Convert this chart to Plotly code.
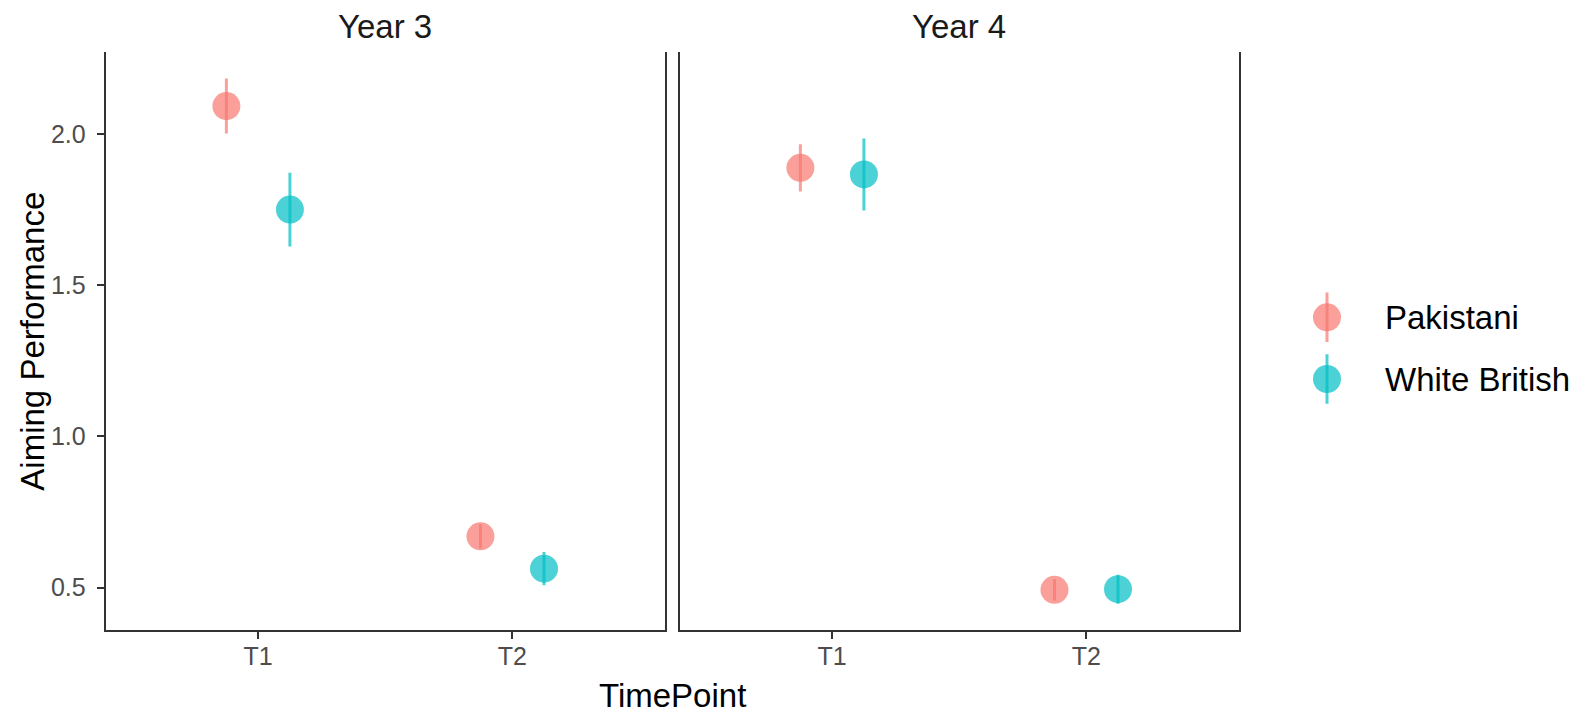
import numpy as np
import plotly.graph_objects as go

# ---- data ---------------------------------------------------------------
years = ["Year 3", "Year 4"]
timepoints = ["T1", "T2"]
groups = ["Pakistani", "White British"]
group_colors = ["#F8766D", "#00BFC4"]

# mean aiming performance and its error (+/-) per timepoint
pak_y3_mean = [2.092, 0.670]
pak_y3_err = [0.091, 0.040]
wb_y3_mean = [1.750, 0.563]
wb_y3_err = [0.122, 0.055]

pak_y4_mean = [1.888, 0.493]
pak_y4_err = [0.078, 0.035]
wb_y4_mean = [1.866, 0.495]
wb_y4_err = [0.119, 0.048]

y_tick_vals = [0.5, 1.0, 1.5, 2.0]
y_tick_text = ["0.5", "1.0", "1.5", "2.0"]

panel_data = {
    "Year 3": [(pak_y3_mean, pak_y3_err), (wb_y3_mean, wb_y3_err)],
    "Year 4": [(pak_y4_mean, pak_y4_err), (wb_y4_mean, wb_y4_err)],
}

# ---- styling ------------------------------------------------------------
W, H = 1583, 713
FONT = "Arial, Liberation Sans, sans-serif"
ALPHA = 0.7
DODGE = 0.25          # distance between the two dodged groups
MARKER = 28
AXIS_COLOR = "#333333"
TICK_TEXT = "#4D4D4D"


def rgba(hex_color, a):
    h = hex_color.lstrip("#")
    r, g, b = int(h[0:2], 16), int(h[2:4], 16), int(h[4:6], 16)
    return f"rgba({r},{g},{b},{a})"


def px_x(p):
    return p / W


def px_y(p):
    return 1 - p / H


# panel placement (pixels -> paper)
panel_x = [(105.7, 664.7), (679.7, 1238.7)]
panel_top, panel_bottom = 52.3, 630.0

# y range: data extent (with error) plus 5% on each side
all_lo = [m - e for v in panel_data.values() for ms, es in v for m, e in zip(ms, es)]
all_hi = [m + e for v in panel_data.values() for ms, es in v for m, e in zip(ms, es)]
lo, hi = min(all_lo), max(all_hi)
pad = 0.05 * (hi - lo)
y_range = [lo - pad, hi + pad]

x_pos = np.arange(1, len(timepoints) + 1)
x_range = [0.4, len(timepoints) + 0.6]

fig = go.Figure()

for pi, year in enumerate(years):
    xa = "x" if pi == 0 else f"x{pi + 1}"
    ya = "y" if pi == 0 else f"y{pi + 1}"
    for gi, (means, errs) in enumerate(panel_data[year]):
        fig.add_trace(go.Scatter(
            x=x_pos + (gi - 0.5) * DODGE,
            y=means,
            mode="markers",
            name=groups[gi],
            showlegend=False,
            xaxis=xa, yaxis=ya,
            marker=dict(size=MARKER, color=rgba(group_colors[gi], ALPHA),
                        line=dict(width=0)),
            error_y=dict(type="data", array=errs, visible=True,
                         color=rgba(group_colors[gi], ALPHA),
                         thickness=3, width=0),
            hoverinfo="skip",
        ))

axis_common = dict(showgrid=False, zeroline=False, showline=True,
                   linecolor=AXIS_COLOR, linewidth=2)

for pi in range(len(years)):
    suffix = "" if pi == 0 else str(pi + 1)
    x0, x1 = panel_x[pi]
    fig.update_layout(**{
        f"xaxis{suffix}": dict(
            **axis_common,
            domain=[px_x(x0), px_x(x1)],
            range=x_range,
            tickmode="array", tickvals=list(x_pos), ticktext=timepoints,
            ticks="outside", ticklen=7, tickwidth=2, tickcolor=AXIS_COLOR,
            tickfont=dict(family=FONT, size=25, color=TICK_TEXT),
            ticklabelstandoff=-4,
            anchor="y" if pi == 0 else f"y{pi + 1}",
            fixedrange=True,
        ),
        f"yaxis{suffix}": dict(
            **axis_common,
            mirror=True,
            domain=[px_y(panel_bottom), px_y(panel_top)],
            range=y_range,
            tickmode="array", tickvals=y_tick_vals, ticktext=y_tick_text,
            ticks="outside" if pi == 0 else "",
            ticklen=7, tickwidth=2, tickcolor=AXIS_COLOR,
            showticklabels=(pi == 0),
            tickfont=dict(family=FONT, size=25, color=TICK_TEXT),
            ticklabelstandoff=6,
            anchor="x" if pi == 0 else f"x{pi + 1}",
            fixedrange=True,
        ),
    })

# ---- legend built on a small hidden axis --------------------------------
leg_idx = np.arange(len(groups))[::-1]   # first group on top
fig.update_layout(
    xaxis3=dict(domain=[px_x(1310), px_x(1344)], range=[0, 1], visible=False,
                anchor="y3", fixedrange=True),
    yaxis3=dict(domain=[px_y(422.2), px_y(274.1)], range=[-0.7, 1.7],
                visible=False, anchor="x3", fixedrange=True),
)
for gi, g in enumerate(groups):
    fig.add_trace(go.Scatter(
        x=[0.5], y=[leg_idx[gi]], mode="markers", showlegend=False,
        xaxis="x3", yaxis="y3",
        marker=dict(size=MARKER, color=rgba(group_colors[gi], ALPHA),
                    line=dict(width=0)),
        error_y=dict(type="constant", value=0.40, visible=True,
                     color=rgba(group_colors[gi], ALPHA), thickness=3, width=0),
        hoverinfo="skip",
    ))
    fig.add_annotation(text=g, xref="paper", yref="y3",
                       x=px_x(1383), y=leg_idx[gi], xanchor="left",
                       yanchor="middle", showarrow=False,
                       font=dict(family=FONT, size=33, color="#000000"))

# ---- facet strips and axis titles ---------------------------------------
for pi, year in enumerate(years):
    x0, x1 = panel_x[pi]
    fig.add_annotation(text=year, xref="paper", yref="paper",
                       x=px_x((x0 + x1) / 2), y=px_y(27), showarrow=False,
                       xanchor="center", yanchor="middle",
                       font=dict(family=FONT, size=33, color="#1A1A1A"))

fig.add_annotation(text="TimePoint", xref="paper", yref="paper",
                   x=px_x((panel_x[0][0] + panel_x[1][1]) / 2), y=px_y(695),
                   showarrow=False, xanchor="center", yanchor="middle",
                   font=dict(family=FONT, size=33, color="#000000"))
fig.add_annotation(text="Aiming Performance", xref="paper", yref="paper",
                   x=px_x(32.5), y=px_y((panel_top + panel_bottom) / 2),
                   textangle=-90, showarrow=False,
                   xanchor="center", yanchor="middle",
                   font=dict(family=FONT, size=33, color="#000000"))

fig.update_layout(
    width=W, height=H,
    margin=dict(l=0, r=0, t=0, b=0),
    paper_bgcolor="white", plot_bgcolor="white",
    showlegend=False,
)

fig.write_html("out.html")
